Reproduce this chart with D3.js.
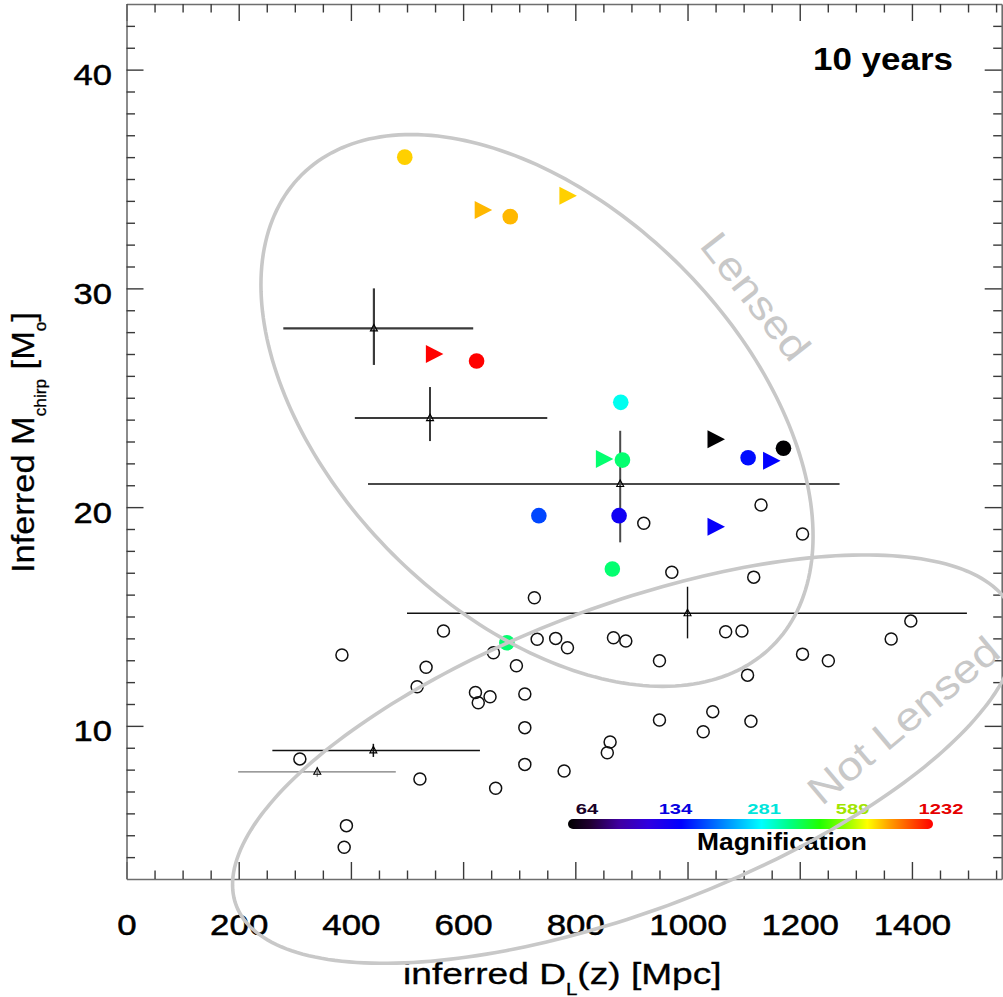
<!DOCTYPE html>
<html>
<head>
<meta charset="utf-8">
<script src="https://cdn.jsdelivr.net/npm/d3@7"></script>
<style>
  html, body { margin: 0; padding: 0; background: #ffffff; }
  svg { display: block; }
  text { font-family: "Liberation Sans", Arial, Helvetica, sans-serif; }
</style>
</head>
<body>
<svg id="chart" width="1003" height="997"></svg>
<script>
// ---------------- data ----------------
// Lensed events: inferred luminosity distance [Mpc], inferred chirp mass [Msun], magnification, marker
const lensedDist   = [496, 684, 634, 785, 547, 624, 881, 1049, 1171, 1108, 1148, 850, 884, 735, 878, 1049, 866, 678];
const lensedMchirp = [36.0, 33.28, 33.58, 34.24, 27.0, 26.68, 24.79, 23.10, 22.69, 22.26, 22.12, 22.20, 22.15, 19.61, 19.61, 19.10, 17.17, 13.80];
const lensedMag    = [728, 763, 763, 728, 1150, 1150, 283, 55, 55, 145, 140, 362, 362, 169, 128, 135, 362, 362];
const lensedShape  = ["circle", "circle", "tri", "tri", "tri", "circle", "circle", "tri", "circle", "circle", "tri", "tri", "circle", "circle", "circle", "tri", "circle", "circle"];

// Events without lensing
const unlensedDist = [1131, 922, 1205, 972, 1118, 1398, 868, 890, 1068, 1097, 1363, 950, 1205, 1251, 1107,
                      950, 1045, 1028, 1113, 862, 857, 727, 565, 384, 732, 765, 786, 654, 695, 534,
                      518, 622, 627, 648, 710, 710, 309, 710, 780, 523, 658, 392, 388];
const unlensedMchirp = [20.10, 19.26, 18.77, 17.02, 16.80, 14.79, 14.03, 13.88, 14.30, 14.34, 13.97, 12.98, 13.28, 12.98, 12.32,
                        10.27, 10.65, 9.73, 10.21, 9.26, 8.77, 15.86, 14.34, 13.24, 13.96, 14.00, 13.57, 13.34, 12.75, 12.68,
                        11.79, 11.53, 11.06, 11.33, 11.46, 9.92, 8.49, 8.24, 7.94, 7.57, 7.15, 5.44, 4.45];

// Representative events with their uncertainties
const errDist   = [441, 541, 880, 1000, 440, 340];
const errMchirp = [28.17, 24.07, 21.06, 15.15, 8.88, 7.90];
const errDistLo = [279.5, 407, 430.5, 500, 260, 199];
const errDistHi = [618, 750, 1271, 1498, 630, 480];
const errMLo    = [26.5, 23.02, 18.39, 14.0, 8.58, 7.67];
const errMHi    = [30.0, 25.49, 23.49, 16.36, 9.18, 8.13];

// Population regions: centre and two conjugate semi-axes (data units)
const regionName     = ["Lensed", "Not Lensed"];
const regionCenter   = [[731.7, 24.42], [887.7, 8.48]];
const regionAxisA    = [[419.8, -10.76], [692.1, 6.69]];
const regionAxisB    = [[-256.7, -6.58], [95.7, -6.51]];
const regionLabelAt  = [[1122, 29.65], [1384, 10.27]];

// Axis ticks
const xTicks = [0, 200, 400, 600, 800, 1000, 1200, 1400];
const yTicks = [10, 20, 30, 40];
const magTicks = [64, 134, 281, 589, 1232];

// ---------------- layout ----------------
const svg = d3.select("#chart");
const plot = { left: 126.5, right: 1001.7, top: 4, bottom: 879 };
const font = '"Liberation Sans", Arial, Helvetica, sans-serif';

const x = d3.scaleLinear().domain([0, 1560]).range([plot.left, plot.right]);
const y = d3.scaleLinear().domain([3, 43]).range([plot.bottom, plot.top]);

// Magnification colour bar geometry and colour table
const bar = { x0: 568, x1: 933, y: 819, h: 10 };
const magPos = d3.scaleLog().domain([64, 1232]).range([587, 941]);
const stopT = [0, 0.06, 0.14, 0.22, 0.31, 0.42, 0.53, 0.61, 0.69, 0.77, 0.82, 0.88, 0.95, 1];
const stopC = ["#000000", "#200030", "#4000a0", "#3000e0", "#0000ff", "#0080ff", "#00ffff",
               "#00ff80", "#20ff00", "#a0ff00", "#ffff00", "#ffa000", "#ff4000", "#ff0000"];
const ramp = d3.scaleLinear().domain(stopT).range(stopC).interpolate(d3.interpolateRgb).clamp(true);
const magColor = m => ramp((magPos(m) - bar.x0) / (bar.x1 - bar.x0));

// ---------------- axes ----------------
const minorX = d3.range(0, 1561, 50).filter(v => v % 200 !== 0);
const minorY = d3.range(4, 43, 1).filter(v => v % 10 !== 0);

function styleAxis(g) {
  g.select(".domain").attr("stroke", "#6e6e6e").attr("stroke-width", 1.6);
  g.selectAll(".tick line").attr("stroke", "#3a3a3a").attr("stroke-width", 1.4);
}

// bottom
const gBottom = svg.append("g").attr("transform", `translate(0,${plot.bottom})`)
  .call(d3.axisBottom(x).tickValues(xTicks).tickSize(-17).tickSizeOuter(0).tickFormat(d3.format("d")));
svg.append("g").attr("transform", `translate(0,${plot.bottom})`)
  .call(d3.axisBottom(x).tickValues(minorX).tickSize(-8.5).tickSizeOuter(0).tickFormat(""))
  .call(g => g.select(".domain").remove())
  .call(styleAxis);
gBottom.call(styleAxis);
gBottom.selectAll("text")
  .attr("y", 56).attr("dy", null)
  .attr("font-family", font).attr("font-size", 30).attr("fill", "#000")
  .attr("stroke", "#000").attr("stroke-width", 0.5)
  .attr("textLength", d => String(d).length * 19.4)
  .attr("lengthAdjust", "spacingAndGlyphs");

// top
svg.append("g").attr("transform", `translate(0,${plot.top})`)
  .call(d3.axisTop(x).tickValues(xTicks).tickSize(-17).tickSizeOuter(0).tickFormat(""))
  .call(styleAxis);
svg.append("g").attr("transform", `translate(0,${plot.top})`)
  .call(d3.axisTop(x).tickValues(minorX).tickSize(-8.5).tickSizeOuter(0).tickFormat(""))
  .call(g => g.select(".domain").remove())
  .call(styleAxis);

// left
const gLeft = svg.append("g").attr("transform", `translate(${plot.left},0)`)
  .call(d3.axisLeft(y).tickValues(yTicks).tickSize(-17).tickSizeOuter(0).tickFormat(d3.format("d")));
svg.append("g").attr("transform", `translate(${plot.left},0)`)
  .call(d3.axisLeft(y).tickValues(minorY).tickSize(-8.5).tickSizeOuter(0).tickFormat(""))
  .call(g => g.select(".domain").remove())
  .call(styleAxis);
gLeft.call(styleAxis);
gLeft.selectAll("text")
  .attr("x", -14.5).attr("y", 15).attr("dy", null)
  .attr("font-family", font).attr("font-size", 30).attr("fill", "#000")
  .attr("stroke", "#000").attr("stroke-width", 0.5)
  .attr("textLength", d => String(d).length * 19.2)
  .attr("lengthAdjust", "spacingAndGlyphs");

// right
svg.append("g").attr("transform", `translate(${plot.right},0)`)
  .call(d3.axisRight(y).tickValues(yTicks).tickSize(-17).tickSizeOuter(0).tickFormat(""))
  .call(styleAxis);
svg.append("g").attr("transform", `translate(${plot.right},0)`)
  .call(d3.axisRight(y).tickValues(minorY).tickSize(-8.5).tickSizeOuter(0).tickFormat(""))
  .call(g => g.select(".domain").remove())
  .call(styleAxis);

// axis titles
const xTitle = svg.append("g").attr("transform", "translate(403,984) scale(1.28,1)")
  .append("text").attr("font-family", font).attr("font-size", 29).attr("fill", "#000")
  .attr("stroke", "#000").attr("stroke-width", 0.3)
  .style("white-space", "pre");
xTitle.append("tspan").text("inferred D");
xTitle.append("tspan").attr("font-size", 16).attr("dy", 11).text("L");
xTitle.append("tspan").attr("dy", -11).text("(z) [Mpc]");

const yTitle = svg.append("g").attr("transform", "translate(34,573) rotate(-90) scale(1.075,1)")
  .append("text").attr("font-family", font).attr("font-size", 32).attr("fill", "#000")
  .attr("stroke", "#000").attr("stroke-width", 0.3)
  .style("white-space", "pre");
yTitle.append("tspan").text("Inferred M");
yTitle.append("tspan").attr("font-size", 16).attr("dy", 12).text("chirp");
yTitle.append("tspan").attr("dy", -12).text(" [M");
yTitle.append("tspan").attr("font-size", 16).attr("dy", 12).text("o");
yTitle.append("tspan").attr("dy", -12).text("]");

// period label
svg.append("text").attr("x", 813).attr("y", 70)
  .attr("font-family", font).attr("font-size", 31).attr("font-weight", "bold").attr("fill", "#000")
  .attr("textLength", 140).attr("lengthAdjust", "spacingAndGlyphs")
  .text("10 years");

// ---------------- uncertainties ----------------
const errColor = ["#3a3a3a", "#3a3a3a", "#4a4a4a", "#111111", "#111111", "#7a7a7a"];
const errWidth = [2.2, 2.0, 2.0, 1.4, 1.5, 1.2];
const gErr = svg.append("g");
errDist.forEach((d, i) => {
  const g = gErr.append("g").attr("stroke", errColor[i]).attr("stroke-width", errWidth[i]).attr("fill", "none");
  g.append("line").attr("x1", x(errDistLo[i])).attr("x2", x(errDistHi[i]))
    .attr("y1", y(errMchirp[i])).attr("y2", y(errMchirp[i]));
  g.append("line").attr("x1", x(d)).attr("x2", x(d))
    .attr("y1", y(errMLo[i])).attr("y2", y(errMHi[i]));
  g.append("path").attr("transform", `translate(${x(d)},${y(errMchirp[i])})`)
    .attr("d", "M0,-4L3.5,2.5L-3.5,2.5Z").attr("stroke", "#000").attr("stroke-width", 1.1);
});

// ---------------- events ----------------
svg.append("g").selectAll("circle").data(unlensedDist).join("circle")
  .attr("cx", d => x(d)).attr("cy", (d, i) => y(unlensedMchirp[i]))
  .attr("r", 6).attr("fill", "none").attr("stroke", "#111").attr("stroke-width", 1.5);

const gLensed = svg.append("g");
lensedDist.forEach((d, i) => {
  const cx = x(d), cy = y(lensedMchirp[i]), c = magColor(lensedMag[i]);
  if (lensedShape[i] === "circle") {
    gLensed.append("circle").attr("cx", cx).attr("cy", cy).attr("r", 7.8).attr("fill", c);
  } else {
    gLensed.append("path").attr("transform", `translate(${cx},${cy})`)
      .attr("d", "M-7.5,-9L10,0L-7.5,9Z").attr("fill", c);
  }
});

// ---------------- colour bar ----------------
const defs = svg.append("defs");
const grad = defs.append("linearGradient").attr("id", "magRamp")
  .attr("x1", "0%").attr("x2", "100%").attr("y1", "0%").attr("y2", "0%");
stopT.forEach((t, i) => grad.append("stop").attr("offset", `${t * 100}%`).attr("stop-color", stopC[i]));
svg.append("rect").attr("x", bar.x0).attr("y", bar.y).attr("width", bar.x1 - bar.x0).attr("height", bar.h)
  .attr("rx", 5).attr("ry", 5).attr("fill", "url(#magRamp)");
svg.append("g").selectAll("text").data(magTicks).join("text")
  .attr("x", d => magPos(d)).attr("y", 814).attr("text-anchor", "middle")
  .attr("font-family", font).attr("font-size", 15).attr("font-weight", "bold")
  .attr("fill", d => d3.color(magColor(d)).darker(0.3))
  .attr("textLength", d => String(d).length * 11.2).attr("lengthAdjust", "spacingAndGlyphs")
  .text(d => d);
svg.append("text").attr("x", 697).attr("y", 850)
  .attr("font-family", font).attr("font-size", 23).attr("font-weight", "bold").attr("fill", "#000")
  .attr("textLength", 170).attr("lengthAdjust", "spacingAndGlyphs")
  .text("Magnification");

// ---------------- population regions ----------------
const tt = d3.range(0, 2 * Math.PI + 0.001, Math.PI / 120);
const regionLine = d3.line().curve(d3.curveLinearClosed);
const regionRot = [52, -40];
const regionLen = [150, 236];
regionName.forEach((name, i) => {
  const [cx, cy] = regionCenter[i], [ax, ay] = regionAxisA[i], [bx, by] = regionAxisB[i];
  const pts = tt.map(t => [x(cx + ax * Math.cos(t) + bx * Math.sin(t)), y(cy + ay * Math.cos(t) + by * Math.sin(t))]);
  svg.append("path").attr("d", regionLine(pts)).attr("fill", "none")
    .attr("stroke", "#c8c8c8").attr("stroke-width", 3.6);
  const [lx, ly] = regionLabelAt[i];
  svg.append("text")
    .attr("transform", `translate(${x(lx)},${y(ly)}) rotate(${regionRot[i]})`)
    .attr("text-anchor", "middle").attr("dy", "0.36em")
    .attr("font-family", font).attr("font-size", 40).attr("fill", "#c8c8c8")
    .attr("textLength", regionLen[i]).attr("lengthAdjust", "spacingAndGlyphs")
    .text(name);
});
</script>
</body>
</html>
